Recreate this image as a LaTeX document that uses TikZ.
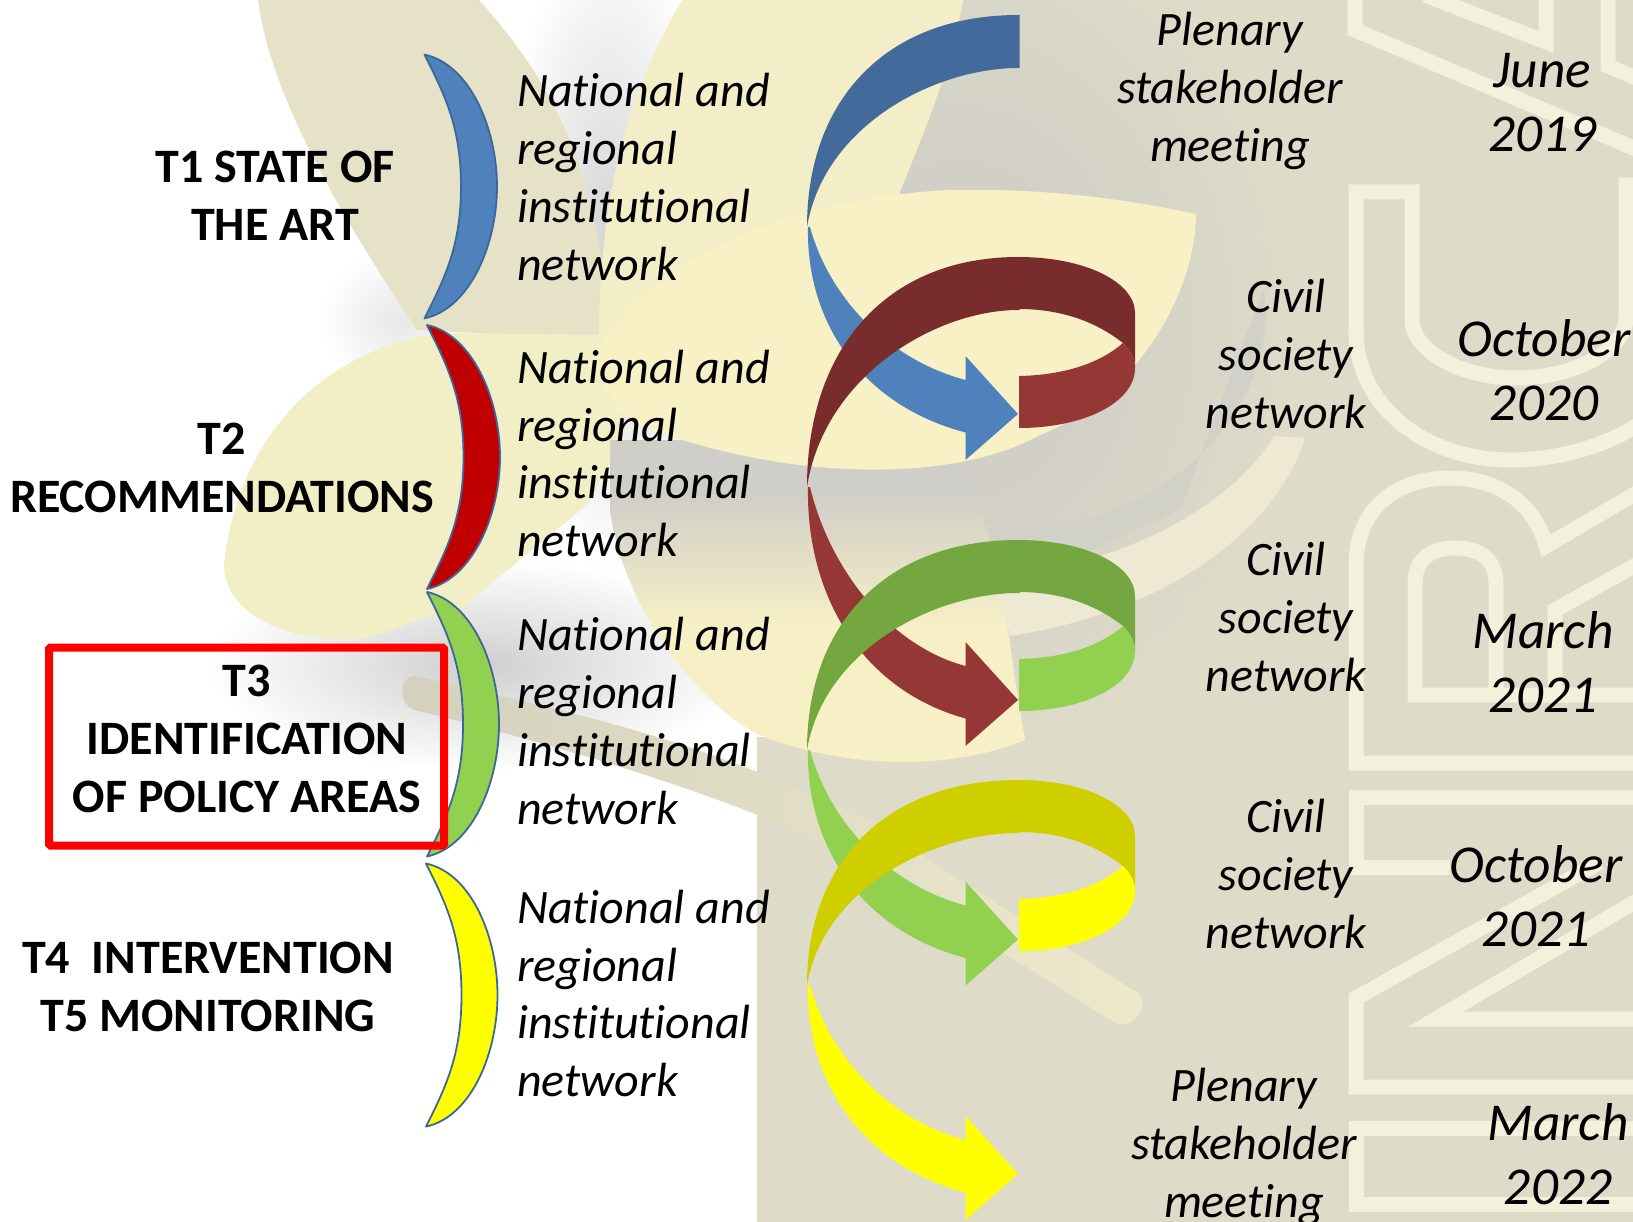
\documentclass[tikz,border=0pt]{standalone}
\usepackage{fontspec}
\setmainfont{Carlito}[Ligatures=CommonOff]
\usetikzlibrary{fadings}
\definecolor{bgk}{HTML}{DEDBC9}
\definecolor{bggray}{HTML}{CBCAC5}
\definecolor{letterc}{HTML}{F3F1DC}
\definecolor{leafa}{HTML}{E6E2C8}
\definecolor{leafb}{HTML}{F2EEC6}
\definecolor{leafc}{HTML}{F3EEC8}
\definecolor{leafd}{HTML}{F8F1C6}
\definecolor{leafey}{HTML}{F7F0C6}
\definecolor{leafeg}{HTML}{CFCEC8}
\definecolor{bandc}{HTML}{EEE9D2}
\definecolor{arcc}{HTML}{D2D1C8}
\definecolor{steml}{HTML}{D3D1BF}
\definecolor{stemm}{HTML}{ECE7C8}
\definecolor{stemr}{HTML}{EEE9CB}
\definecolor{bluel}{HTML}{4F81BD}
\definecolor{blued}{HTML}{426A9B}
\definecolor{redl}{HTML}{953735}
\definecolor{redd}{HTML}{792C2C}
\definecolor{greenl}{HTML}{92D050}
\definecolor{greend}{HTML}{75A741}
\definecolor{yell}{HTML}{FFFF00}
\definecolor{yeld}{HTML}{CFCF00}
\definecolor{crescentline}{HTML}{3D6699}
\definecolor{cresred}{HTML}{C00000}
\definecolor{boxred}{HTML}{FF0000}
\pgfdeclareverticalshading{leafeshade}{100bp}{color(0bp)=(leafey); color(47bp)=(leafey); color(67bp)=(leafeg); color(100bp)=(leafeg)}
\tikzfading[name=softblob, inner color=transparent!0, outer color=transparent!100]
\tikzset{
  boldlabel/.style={inner sep=0pt, align=center, font=\fontsize{48}{57.6}\selectfont\bfseries},
  itlabel/.style={inner sep=0pt, align=left, anchor=west, font=\fontsize{48}{57.8}\selectfont\itshape},
  itcenter/.style={inner sep=0pt, align=center, font=\fontsize{48}{57.6}\selectfont\itshape},
  datelabel/.style={inner sep=0pt, align=center, font=\fontsize{53.3}{63.8}\selectfont\itshape},
  letterline/.style={draw=letterc, line width=15pt, miter limit=10},
  blob/.style={fill=#1, path fading=softblob},
  crescentpath/.style={draw=crescentline, line width=1.8pt, line join=round}
}
% top y, bend y, tip y, dark, light
\newcommand{\ribbonpart}[5]{
  \fill[#5] (808,#2) .. controls (806,{#2+0.5*(#3-#2)}) and (860,{#2+0.95*(#3-#2)}) .. (965.5,#3+18.5)
     -- (965.5,#3+46) -- (1018,#3) -- (965.5,#3-58) -- (965.5,#3-34)
     .. controls (890,#3-54) and (830,{#2+0.39*(#3-#2)}) .. (810,#2) -- cycle;
  \fill[#4] (1019.5,#1) -- (1018.5,#1) .. controls (886,#1) and (807,{#1+0.40*(#2-#1)}) .. (807,#2)
     .. controls (824,{#1+0.52*(#2-#1)}) and (935,#1+53) .. (1018.5,#1+53) -- (1019.5,#1+53) -- cycle;
}
% top y, dark, light
\newcommand{\ringpart}[3]{
  \fill[#2] (1018.5,#1) .. controls (1085,#1) and (1135,#1+25) .. (1135,#1+56)
     -- (1135,#1+111) .. controls (1135,#1+102) and (1131,#1+94) .. (1123,#1+86)
     .. controls (1095,#1+64) and (1060,#1+52) .. (1018.5,#1+52) -- cycle;
  \fill[#3] (1019,#1+119) .. controls (1065,#1+118) and (1100,#1+106) .. (1123,#1+86)
     .. controls (1131,#1+94) and (1135,#1+102) .. (1135,#1+111)
     .. controls (1135,#1+145) and (1085,#1+171) .. (1019,#1+171) -- cycle;
}
% x tip, y top, y bottom, x inner, x outer, fill
\newcommand{\crescentshape}[6]{
  \path[crescentpath, fill=#6] (#1,#2)
    .. controls (#1+46,#2+10) and (#5,{(#2+#3)/2-57}) .. (#5,{(#2+#3)/2})
    .. controls (#5,{(#2+#3)/2+57}) and (#1+46,#3-10) .. (#1,#3)
    .. controls (#1+20,#3-40) and (#4,{(#2+#3)/2+60}) .. (#4,{(#2+#3)/2})
    .. controls (#4,{(#2+#3)/2-60}) and (#1+20,#2+40) .. cycle;
}
\begin{document}
\begin{tikzpicture}[x=1pt,y=-1pt]
\useasboundingbox (0,0) rectangle (1633,1222);
\clip (0,0) rectangle (1633,1222);
\fill[white] (0,0) rectangle (1633,1222);
% soft shadows on the left
\fill[blob=black!17] (610,250) ellipse [x radius=110, y radius=320];
\fill[blob=black!19] (480,665) ellipse [x radius=270, y radius=105];
\fill[blob=black!9] (400,320) ellipse [x radius=80, y radius=70];
% right background
\fill[bgk] (900,0) rectangle (1633,737);
\fill[bgk] (757,737) rectangle (1633,1222);
\fill[blob=bggray] (960,330) ellipse [x radius=330, y radius=420];
% letters
\path[letterline] (1355,-10) -- (1355,30) -- (1650,155);
\path[letterline] (1425,-5) -- (1546,42) -- (1546,-10);
\path[letterline] (1608,-10) -- (1608,66) -- (1650,84);
\path[letterline] (1356,340) -- (1356,192) -- (1412,192) -- (1412,320)
   .. controls (1412,350) and (1460,378) .. (1516,378) .. controls (1575,378) and (1626,350) .. (1626,317) -- (1626,185) -- (1650,185);
\path[letterline] (1356,330) .. controls (1356,410) and (1430,460) .. (1510,460) .. controls (1560,460) and (1610,445) .. (1645,420);
\path[letterline] (1645,763) -- (1356,763) -- (1356,565) .. controls (1356,510) and (1395,478) .. (1450,478)
   .. controls (1500,478) and (1535,505) .. (1546,546) -- (1645,488);
\path[letterline] (1645,695) -- (1415,695) -- (1415,583) .. controls (1415,560) and (1430,548) .. (1455,548)
   .. controls (1480,548) and (1496,560) .. (1496,583) -- (1496,695);
\path[letterline] (1555,695) -- (1555,610) -- (1645,560);
\path[letterline] (1645,797) -- (1356,797) -- (1356,867) -- (1450,867);
\path[letterline] (1645,1087) -- (1356,1087) -- (1356,998) -- (1600,862);
\path[letterline] (1645,896) -- (1436,1019) -- (1645,1019);
\path[letterline] (1645,1128) -- (1356,1128) -- (1356,1204) -- (1645,1204);
% arcs behind the ribbons
\fill[arcc] (1264,288) .. controls (1280,400) and (1180,510) .. (1050,525) .. controls (1010,530) and (970,530) .. (946,526)
   -- (1000,590) -- (1180,510) -- cycle;
\fill[bandc] (1305,438) .. controls (1280,520) and (1180,610) .. (1010,636) -- (995,575)
   .. controls (1110,570) and (1230,510) .. (1274,436) -- cycle;
% leaf A
\fill[leafa] (258,0) .. controls (270,90) and (330,200) .. (417,330) -- (610,340)
   .. controls (600,180) and (560,90) .. (479,0) -- cycle;
% leaf B
\fill[leafb] (610,335) -- (443,333) .. controls (340,345) and (240,420) .. (224,565)
   .. controls (225,620) and (300,645) .. (365,638) .. controls (400,630) and (420,615) .. (458,611)
   -- (589,503) -- (625,430) -- cycle;
% leaf C
\fill[leafc] (682,0) .. controls (630,90) and (599,190) .. (599,340) -- (880,300) -- (900,192)
   .. controls (925,130) and (950,70) .. (963,0) -- cycle;
% leaf E
\shade[shading=leafeshade] (610,440) -- (610,510) .. controls (620,590) and (680,690) .. (755,733)
  .. controls (830,765) and (940,775) .. (1025,740) -- (1015,680) .. controls (1010,640) and (1000,560) .. (960,440) -- cycle;
% stem
\shade[left color=steml, middle color=stemm, right color=stemr]
  (415,676) .. controls (570,712) and (700,738) .. (866,820) -- (1138,993)
  .. controls (1152,1005) and (1130,1035) .. (1112,1021) -- (850,856)
  .. controls (740,800) and (570,748) .. (415,710) .. controls (398,705) and (398,676) .. (415,676) -- cycle;
% leaf D
\fill[leafd] (599,347) .. controls (650,270) and (760,200) .. (950,190) .. controls (1050,188) and (1130,200) .. (1196,214)
  .. controls (1195,300) and (1130,400) .. (1040,435) .. controls (950,485) and (780,480) .. (640,425)
  .. controls (610,410) and (598,380) .. cycle;
% crescents
\crescentshape{424.5}{54.6}{318.4}{461}{497}{bluel}
\crescentshape{427}{325}{589}{463.5}{500}{cresred}
\crescentshape{427}{592}{856.5}{463}{499}{greenl}
\crescentshape{426}{863.5}{1126.6}{461.5}{497.5}{yell}
% ribbons
\ribbonpart{15}{227}{414}{blued}{bluel}
\ringpart{257}{redd}{redl}
\ribbonpart{257}{487}{700}{redd}{redl}
\ringpart{540}{greend}{greenl}
\ribbonpart{540}{750}{939.5}{greend}{greenl}
\ringpart{780}{yeld}{yell}
\ribbonpart{780}{985}{1174}{yeld}{yell}
% red box
\draw[boxred, line width=8pt, rounded corners=1.5pt] (49,647.5) rectangle (444,845.5);
% labels
\node[boldlabel] (t1) at (275,195.5) {T1 STATE OF\\THE ART};
\node[boldlabel] (t2) at (222,468) {T2\\RECOMMENDATIONS};
\node[boldlabel] (t3) at (247,739) {T3\\IDENTIFICATION\\OF POLICY AREAS};
\node[boldlabel] (t4) at (208,987) {T4\ \ INTERVENTION\\T5 MONITORING};
\node[itlabel] (n1) at (517,177) {National and\\regional\\institutional\\network};
\node[itlabel] (n2) at (517,453.5) {National and\\regional\\institutional\\network};
\node[itlabel] (n3) at (517,721) {National and\\regional\\institutional\\network};
\node[itlabel] (n4) at (517,993.5) {National and\\regional\\institutional\\network};
\node[itcenter] (p1) at (1230,91) {Plenary\\stakeholder\\meeting};
\node[itcenter] (c1) at (1286,354) {Civil\\society\\network};
\node[itcenter] (c2) at (1286,617) {Civil\\society\\network};
\node[itcenter] (c3) at (1286,874) {Civil\\society\\network};
\node[itcenter] (p2) at (1244,1147) {Plenary\\stakeholder\\meeting};
\node[datelabel] (d1) at (1542.6,102.5) {June\\2019};
\node[datelabel] (d2) at (1544,370) {October\\2020};
\node[datelabel] (d3) at (1543,662) {March\\2021};
\node[datelabel] (d4) at (1536,896.5) {October\\2021};
\node[datelabel] (d5) at (1558,1154.5) {March\\2022};
\end{tikzpicture}
\end{document}
